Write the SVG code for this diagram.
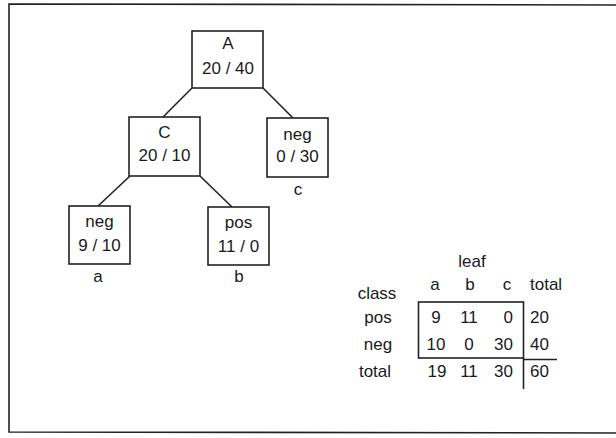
<svg xmlns="http://www.w3.org/2000/svg" width="616" height="438" viewBox="0 0 616 438">
<style>
text{font-family:"Liberation Sans",Arial,Helvetica,sans-serif;font-size:17px;fill:#1a1a1a}
.m{text-anchor:middle}
.e{text-anchor:end}
.box{fill:#fff;stroke:#222;stroke-width:1.6}
.ln{stroke:#222;stroke-width:1.6;fill:none}
</style>
<rect width="616" height="438" fill="#fff"/>
<path class="ln" d="M620,5 L9,4 L9,432 L620,433"/>
<g id="edges">
<line class="ln" x1="192" y1="88" x2="163" y2="117"/>
<line class="ln" x1="263" y1="88" x2="293" y2="118"/>
<line class="ln" x1="130" y1="176" x2="98" y2="206"/>
<line class="ln" x1="200" y1="176" x2="232" y2="207"/>
</g>
<g id="nodeA">
<rect class="box" x="192" y="31" width="71" height="57"/>
<text class="m" x="228" y="49">A</text>
<text class="m" x="228" y="74">20 / 40</text>
</g>
<g id="nodeC">
<rect class="box" x="129" y="117" width="71" height="59"/>
<text class="m" x="164.5" y="138">C</text>
<text class="m" x="164.5" y="161">20 / 10</text>
</g>
<g id="leafc">
<rect class="box" x="267" y="118" width="61" height="59"/>
<text class="m" x="297.5" y="140">neg</text>
<text class="m" x="297.5" y="162">0 / 30</text>
<text class="m" x="298" y="195">c</text>
</g>
<g id="leafa">
<rect class="box" x="69" y="206" width="61" height="58"/>
<text class="m" x="99.5" y="227">neg</text>
<text class="m" x="99.5" y="251">9 / 10</text>
<text class="m" x="98" y="282">a</text>
</g>
<g id="leafb">
<rect class="box" x="208" y="207" width="61" height="58"/>
<text class="m" x="238.5" y="228">pos</text>
<text class="m" x="238.5" y="252">11 / 0</text>
<text class="m" x="239" y="282">b</text>
</g>
<g id="table">
<text class="m" x="472" y="267">leaf</text>
<text class="m" x="435" y="290">a</text>
<text class="m" x="470" y="290">b</text>
<text class="m" x="507" y="290">c</text>
<text x="530" y="290">total</text>
<text class="m" x="377" y="299">class</text>
<text class="m" x="378" y="323">pos</text>
<text class="m" x="378" y="350">neg</text>
<text class="m" x="375" y="377">total</text>
<rect x="418.5" y="302" width="105" height="56" fill="none" stroke="#222" stroke-width="1.6"/>
<line class="ln" x1="523.5" y1="359.5" x2="557" y2="359.5"/>
<line class="ln" x1="523.5" y1="358" x2="523.5" y2="389"/>
<text class="m" x="436" y="323">9</text>
<text class="m" x="469" y="323">11</text>
<text class="e" x="513" y="323">0</text>
<text x="530" y="323">20</text>
<text class="m" x="436" y="350">10</text>
<text class="m" x="469" y="350">0</text>
<text class="e" x="513" y="350">30</text>
<text x="530" y="350">40</text>
<text class="m" x="437" y="377">19</text>
<text class="m" x="469" y="377">11</text>
<text class="e" x="513" y="377">30</text>
<text x="530" y="377">60</text>
</g>
</svg>
